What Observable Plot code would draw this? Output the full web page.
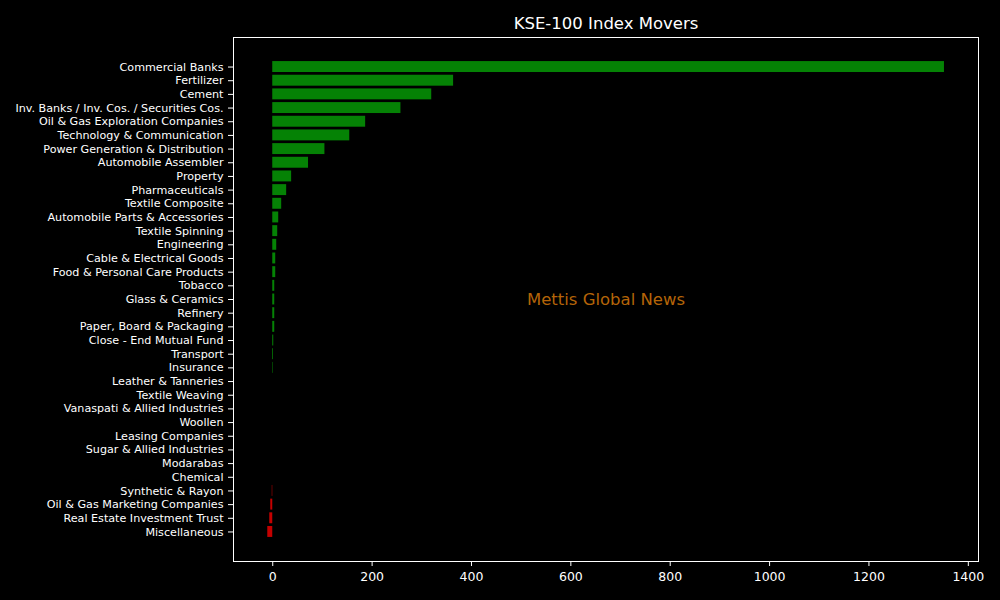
<!DOCTYPE html>
<html>
<head>
<meta charset="utf-8">
<script src="https://cdn.jsdelivr.net/npm/d3@7"></script>
<script src="https://cdn.jsdelivr.net/npm/@observablehq/plot@0.6"></script>
<style>
  html, body { margin: 0; padding: 0; background: #000; }
  #chart svg { display: block; }
</style>
</head>
<body>
<div id="chart"></div>
<script>
const sectors = [
  "Commercial Banks", "Fertilizer", "Cement", "Inv. Banks / Inv. Cos. / Securities Cos.",
  "Oil & Gas Exploration Companies", "Technology & Communication", "Power Generation & Distribution",
  "Automobile Assembler", "Property", "Pharmaceuticals", "Textile Composite",
  "Automobile Parts & Accessories", "Textile Spinning", "Engineering", "Cable & Electrical Goods",
  "Food & Personal Care Products", "Tobacco", "Glass & Ceramics", "Refinery",
  "Paper, Board & Packaging", "Close - End Mutual Fund", "Transport", "Insurance",
  "Leather & Tanneries", "Textile Weaving", "Vanaspati & Allied Industries", "Woollen",
  "Leasing Companies", "Sugar & Allied Industries", "Modarabas", "Chemical",
  "Synthetic & Rayon", "Oil & Gas Marketing Companies", "Real Estate Investment Trust", "Miscellaneous"
];
const points = [
  1352, 364, 320, 258,
  187, 155, 105,
  72, 38, 28, 18,
  12, 10, 8, 6,
  6, 4, 4, 4,
  4, 2, 1.5, 1,
  0, 0, 0, 0,
  0, 0, 0, 0,
  -1, -4, -6, -10
];
const xTicks = [0, 200, 400, 600, 800, 1000, 1200, 1400];
const titleText = "KSE-100 Index Movers";
const watermark = "Mettis Global News";

const data = sectors.map((s, i) => ({sector: s, value: points[i]}));

const chart = Plot.plot({
  width: 1000,
  height: 600,
  marginLeft: 233,
  marginRight: 22,
  marginTop: 37,
  marginBottom: 39,
  style: {background: "#000", color: "#fff", fontFamily: "DejaVu Sans, sans-serif", fontSize: "11px"},
  x: {domain: [-79, 1420.5], ticks: xTicks, label: null},
  y: {domain: sectors, paddingInner: 0.2, paddingOuter: 1.76, round: false, label: null},
  color: {type: "identity"},
  marks: [
    Plot.barX(data, {
      x: "value",
      y: "sector",
      fill: d => d.value >= 0 ? "#058205" : "#c40000"
    }),
    Plot.axisX({ticks: xTicks, tickFormat: d => String(d), tickSize: 5, tickPadding: 6, fontSize: 12.5, stroke: "#fff", label: null}),
    Plot.axisY({tickSize: 5, tickPadding: 5, fontSize: 11.15, stroke: "#fff", label: null}),
    Plot.frame({stroke: "#fff", strokeWidth: 1}),
    Plot.text([watermark], {
      frameAnchor: "middle",
      text: d => d,
      fill: "#b46408",
      fontSize: 16.5
    }),
    Plot.text([titleText], {
      frameAnchor: "top",
      text: d => d,
      dy: -20,
      fill: "#fff",
      fontSize: 16.5
    })
  ]
});
document.getElementById("chart").appendChild(chart);
</script>
</body>
</html>
